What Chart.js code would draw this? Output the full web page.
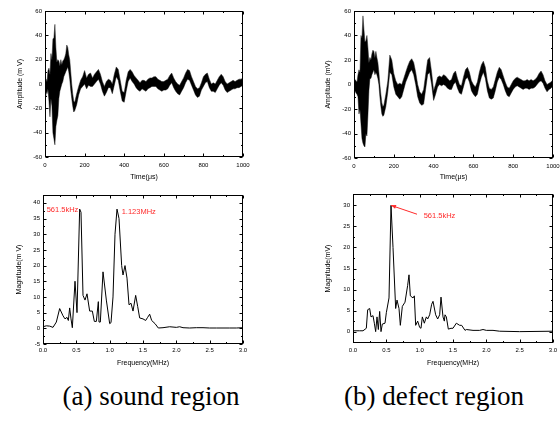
<!DOCTYPE html>
<html><head><meta charset="utf-8">
<script src="https://cdn.jsdelivr.net/npm/chart.js@4.4.1/dist/chart.umd.min.js"></script>
<style>
html,body{margin:0;padding:0;background:#fff;}
body{width:560px;height:421px;position:relative;overflow:hidden;}
canvas{position:absolute;}
.cap{position:absolute;font-family:"Liberation Serif","Times New Roman",serif;font-size:27px;line-height:27px;color:#000;white-space:nowrap;transform:translateX(-50%);}
</style></head><body>
<canvas id="tl" width="280" height="190" style="left:0;top:0"></canvas>
<canvas id="tr" width="290" height="190" style="left:280px;top:0"></canvas>
<canvas id="bl" width="280" height="185" style="left:0;top:185px"></canvas>
<canvas id="br" width="290" height="185" style="left:280px;top:185px"></canvas>
<div class="cap" style="left:151px;top:383px">(a) sound region</div>
<div class="cap" style="left:434px;top:383px">(b) defect region</div>
<script>
// ---------- tick labels ----------
const timeTicks = [0, 200, 400, 600, 800, 1000];
const ampTicks = [-60, -40, -20, 0, 20, 40, 60];
const freqTicks = [0, 0.5, 1.0, 1.5, 2.0, 2.5, 3.0];
const magTicksA = [-5, 0, 5, 10, 15, 20, 25, 30, 35, 40];
const magTicksB = [0, 5, 10, 15, 20, 25, 30];

// ---------- time-domain signals (µs), band envelope (mV) ----------
const timeUs = [0,5,10,15,20,25,30,35,40,45,50,55,60,65,70,75,80,85,90,95,100,105,110,115,120,125,130,135,140,145,150,
  160,170,180,190,200,210,220,230,240,250,260,270,280,290,300,310,320,330,340,350,360,370,380,390,400,
  410,420,430,440,450,460,470,480,490,500,510,520,530,540,550,560,570,580,590,600,
  610,620,630,640,650,660,670,680,690,700,710,720,730,740,750,760,770,780,790,800,
  810,820,830,840,850,860,870,880,890,900,910,920,930,940,950,960,970,980,990,1000];

const soundUpper = [3,4,2,11,13,8,25,20,37,38,49,30,18,20,19,15,20,16,19,20,22,25,32,30,24,20,10,0,-8,-14,-15,
  -8,-2,3,6,11,5,8,9,5,8,10,12,8,2,-2,2,4,3,0,8,14,12,3,-6,-7,
  3,10,12,10,7,5,3,1,3,3,2,4,5,5,6,6,4,3,2,2,
  3,4,7,9,5,2,0,-1,2,5,9,12,11,6,2,-2,-4,-3,1,6,
  8,9,4,0,1,0,3,6,8,6,2,0,1,2,3,2,3,4,4,5];
const soundLower = [-10,-6,-8,-4,-14,-27,-12,-18,-40,-45,-50,-35,-30,-26,-12,-6,-3,0,2,6,8,10,12,14,10,4,-5,-12,-18,-23,-22,
  -17,-9,-4,-2,0,-4,-1,-2,-2,0,2,4,0,-6,-10,-7,-3,-3,-8,-1,6,3,-6,-14,-15,
  -6,2,5,2,0,-3,-5,-6,-4,-5,-6,-4,-3,-2,-2,-2,-4,-5,-6,-5,
  -5,-4,-1,1,-3,-6,-8,-9,-6,-3,1,4,3,-1,-5,-9,-11,-10,-5,-2,
  1,2,-3,-6,-6,-7,-4,-1,1,-1,-5,-7,-6,-5,-4,-4,-3,-3,-2,-1];

const defectUpper = [3,4,3,2,8,12,10,40,38,56,45,35,36,40,30,18,22,20,25,28,27,22,27,22,18,10,0,-8,-15,-18,-17,
  -8,3,24,20,9,3,0,1,0,5,10,15,19,21,18,10,0,-6,-8,-4,8,20,22,10,-5,
  0,6,7,6,8,7,5,3,4,9,11,5,0,-1,6,12,14,10,3,0,
  -2,2,10,16,19,14,3,-3,-4,-2,4,10,14,12,7,2,-2,-3,0,3,
  5,6,5,4,3,3,4,3,4,3,4,6,9,11,8,3,0,1,2,4];
const defectLower = [-6,-5,-7,-8,-10,-24,-20,-32,-44,-48,-50,-51,-40,-42,-25,-5,5,5,8,10,12,8,10,8,5,0,-10,-18,-24,-26,-25,
  -18,-6,10,8,-2,-8,-10,-12,-10,-4,2,6,10,12,8,0,-10,-15,-17,-16,-4,8,10,0,-13,
  -8,-2,0,-1,0,-1,-3,-4,-4,0,2,-3,-7,-8,-2,4,6,2,-5,-8,
  -10,-8,0,6,10,5,-5,-11,-12,-11,-5,2,6,4,0,-5,-9,-10,-7,-4,
  -2,-1,-2,-3,-4,-3,-3,-4,-3,-3,-2,0,2,3,1,-3,-6,-4,-3,-1];

// ---------- spectra (MHz, mV) ----------
const freqA = [0,0.05,0.1,0.15,0.2,0.25,0.3,0.33,0.36,0.38,0.4,0.42,0.44,0.48,0.51,0.55,0.57,0.6,0.63,0.66,
  0.7,0.74,0.77,0.8,0.83,0.84,0.86,0.9,0.95,1.0,1.02,1.05,1.08,1.11,1.14,1.18,1.2,1.23,1.26,1.29,
  1.32,1.35,1.39,1.42,1.45,1.5,1.54,1.57,1.6,1.63,1.68,1.73,1.8,1.9,2.0,2.05,2.1,2.2,2.3,2.4,
  2.5,2.6,2.7,2.8,2.9,3.0];
const magA = [0.5,0.8,0.7,0.3,2,6.3,4,3,3.5,2.5,6.5,3,0.2,15,5,38,37,10.5,9,11,
  5.5,5.5,2.2,2.2,8.5,2,2,18,9,1.5,1.8,10,30,38,35,20,17,20,16,7.5,
  8,5.5,10.5,7,3.3,3,2.5,3.5,4.5,2.5,1.5,0.1,0.2,0.5,0.3,0.5,0.2,0.1,0.2,0.2,
  0.1,0.1,0.1,0.1,0.1,0.2];
const freqB = [0,0.1,0.15,0.2,0.22,0.25,0.27,0.3,0.32,0.34,0.36,0.38,0.4,0.42,0.44,0.48,0.5,0.54,0.57,0.6,
  0.64,0.66,0.69,0.71,0.74,0.78,0.82,0.84,0.86,0.9,0.92,0.94,0.97,1.0,1.02,1.04,1.07,1.1,1.12,1.15,
  1.18,1.2,1.24,1.27,1.3,1.32,1.35,1.37,1.38,1.4,1.43,1.47,1.5,1.55,1.6,1.63,1.68,1.7,1.8,1.9,
  1.95,2.0,2.1,2.2,2.5,3.0];
const magB = [0.2,0.2,0.2,0.8,5.2,5.5,3.5,3.8,2,0,3.5,0.5,4.8,0,1.8,2,4.5,8,30,20,
  5.5,7.5,5.5,1.5,6,7,11,13.5,8.5,8,8.5,1.5,2.5,1,0.8,3.5,2,3.5,3,4,
  6.5,7.2,4,3,4,8.2,3.5,2.5,4,3.5,0.6,0.8,0.8,2,1.5,1.5,0.3,0.5,0.3,0.3,
  0.5,0.3,0.3,0.1,0.0,0.1];

const peakLabelA1 = '561.5kHz', peakLabelA2 = '1.123MHz', peakLabelB = '561.5kHz';

// ---------- helpers ----------
const FF = "'Liberation Sans', Arial, sans-serif";
const RED = '#ff2a2a';
const xy = (xs, ys) => xs.map((x, i) => ({x, y: ys[i]}));
const mids = t => t.slice(1).map((v, i) => (v + t[i]) / 2);

const framePlugin = {
  id: 'frame',
  afterDatasetsDraw(chart, args, o) {
    const {ctx, chartArea: a, scales: {x, y}} = chart;
    ctx.save();
    ctx.strokeStyle = '#000';
    ctx.lineWidth = 1;
    const L = Math.round(a.left) + 0.5, R = Math.round(a.right) - 0.5;
    const T = Math.round(a.top) + 0.5, B = Math.round(a.bottom) - 0.5;
    ctx.strokeRect(L, T, R - L, B - T);
    ctx.beginPath();
    const xt = (vals, len) => vals.forEach(v => {
      const p = Math.round(x.getPixelForValue(v)) + 0.5;
      ctx.moveTo(p, B); ctx.lineTo(p, B - len);
      ctx.moveTo(p, T); ctx.lineTo(p, T + len);
    });
    const yt = (vals, len) => vals.forEach(v => {
      const p = Math.round(y.getPixelForValue(v)) + 0.5;
      ctx.moveTo(L, p); ctx.lineTo(L + len, p);
      ctx.moveTo(R, p); ctx.lineTo(R - len, p);
    });
    xt(o.xMajor, 3); xt(mids(o.xMajor), 1.5);
    yt(o.yMajor, 3); yt(mids(o.yMajor), 1.5);
    ctx.stroke();
    (o.notes || []).forEach(n => {
      ctx.fillStyle = RED;
      ctx.font = '7.5px ' + FF;
      ctx.textBaseline = 'middle';
      ctx.textAlign = 'left';
      ctx.fillText(n.text, x.getPixelForValue(n.x), y.getPixelForValue(n.y));
    });
    (o.arrows || []).forEach(ar => {
      const x0 = x.getPixelForValue(ar.x0), y0 = y.getPixelForValue(ar.y0);
      const x1 = x.getPixelForValue(ar.x1), y1 = y.getPixelForValue(ar.y1);
      ctx.strokeStyle = RED; ctx.fillStyle = RED; ctx.lineWidth = 1;
      ctx.beginPath(); ctx.moveTo(x1, y1); ctx.lineTo(x0, y0); ctx.stroke();
      const ang = Math.atan2(y0 - y1, x0 - x1), hl = 5, hw = 2;
      ctx.beginPath();
      ctx.moveTo(x0, y0);
      ctx.lineTo(x0 - hl * Math.cos(ang) + hw * Math.sin(ang), y0 - hl * Math.sin(ang) - hw * Math.cos(ang));
      ctx.lineTo(x0 - hl * Math.cos(ang) - hw * Math.sin(ang), y0 - hl * Math.sin(ang) + hw * Math.cos(ang));
      ctx.closePath(); ctx.fill();
    });
    ctx.restore();
  }
};

function axis(o) {
  return {
    type: 'linear', min: o.min, max: o.max,
    afterBuildTicks: s => { s.ticks = o.ticks.map(v => ({value: v})); },
    afterFit: s => { if (o.w !== undefined) s.width = o.w; if (o.h !== undefined) s.height = o.h; },
    grid: {display: false, drawTicks: false},
    border: {display: false},
    ticks: {color: '#000', font: {family: FF, size: 6}, padding: o.pad, maxRotation: 0, autoSkip: false,
      callback: o.fmt || (v => String(v))},
    title: {display: true, text: o.title, color: '#000', font: {family: FF, size: 7}, padding: o.tpad}
  };
}

function make(id, datasets, sc, pad, frame) {
  new Chart(document.getElementById(id), {
    type: 'line',
    data: {datasets},
    options: {
      responsive: false, animation: false, devicePixelRatio: 1,
      layout: {padding: pad},
      parsing: true,
      elements: {point: {radius: 0}, line: {tension: 0}},
      plugins: {legend: {display: false}, tooltip: {enabled: false}, frame},
      scales: sc
    },
    plugins: [framePlugin]
  });
}

function bandSets(up, lo) {
  return [
    {data: xy(timeUs, up), borderColor: '#222', borderWidth: 0.5, backgroundColor: '#000', fill: '+1'},
    {data: xy(timeUs, lo), borderColor: '#222', borderWidth: 0.5, fill: false}
  ];
}
const lineSet = (f, m) => [{data: xy(f, m), borderColor: '#000', borderWidth: 1, fill: false}];
const fmt1 = v => v.toFixed(1);

// top-left
make('tl', bandSets(soundUpper, soundLower), {
  x: axis({min: 0, max: 1000, ticks: timeTicks, h: 33, pad: 4.5, title: 'Time(\u03bcs)', tpad: {top: 0, bottom: 8.8}}),
  y: axis({min: -60, max: 60, ticks: ampTicks, w: 34, pad: 3, title: 'Amplitude (m V)', tpad: {top: 4.8, bottom: 0}})
}, {left: 11, top: 11, right: 37, bottom: 0}, {xMajor: timeTicks, yMajor: ampTicks});

// top-right
make('tr', bandSets(defectUpper, defectLower), {
  x: axis({min: 0, max: 1000, ticks: timeTicks, h: 32, pad: 4.5, title: 'Time(\u03bcs)', tpad: {top: 0, bottom: 8.8}}),
  y: axis({min: -60, max: 60, ticks: ampTicks, w: 34, pad: 3, title: 'Amplitude (mV)', tpad: {top: 3.8, bottom: 0}})
}, {left: 40, top: 11, right: 17, bottom: 0}, {xMajor: timeTicks, yMajor: ampTicks});

// bottom-left
make('bl', lineSet(freqA, magA), {
  x: axis({min: 0, max: 3, ticks: freqTicks, h: 26, pad: 3, fmt: fmt1, title: 'Frequency(MHz)', tpad: {top: 0, bottom: 2.8}}),
  y: axis({min: -5, max: 42.5, ticks: magTicksA, w: 34, pad: 3, title: 'Magnitude(m V)', tpad: {top: 5.8, bottom: 0}})
}, {left: 9, top: 10, right: 37, bottom: 0}, {xMajor: freqTicks, yMajor: magTicksA,
  notes: [{text: peakLabelA1, x: 0.055, y: 37.7}, {text: peakLabelA2, x: 1.18, y: 37.2}]});

// bottom-right
make('br', lineSet(freqB, magB), {
  x: axis({min: 0, max: 3, ticks: freqTicks, h: 27, pad: 3.8, fmt: fmt1, title: 'Frequency(MHz)', tpad: {top: 0, bottom: 2.8}}),
  y: axis({min: -2.7, max: 32.7, ticks: magTicksB, w: 34, pad: 3, title: 'Magnitude(mV)', tpad: {top: 4.8, bottom: 0}})
}, {left: 39, top: 9, right: 17, bottom: 0}, {xMajor: freqTicks, yMajor: magTicksB,
  notes: [{text: peakLabelB, x: 1.06, y: 27.6}],
  arrows: [{x0: 0.57, y0: 30, x1: 0.96, y1: 27.9}]});
</script>
</body></html>
